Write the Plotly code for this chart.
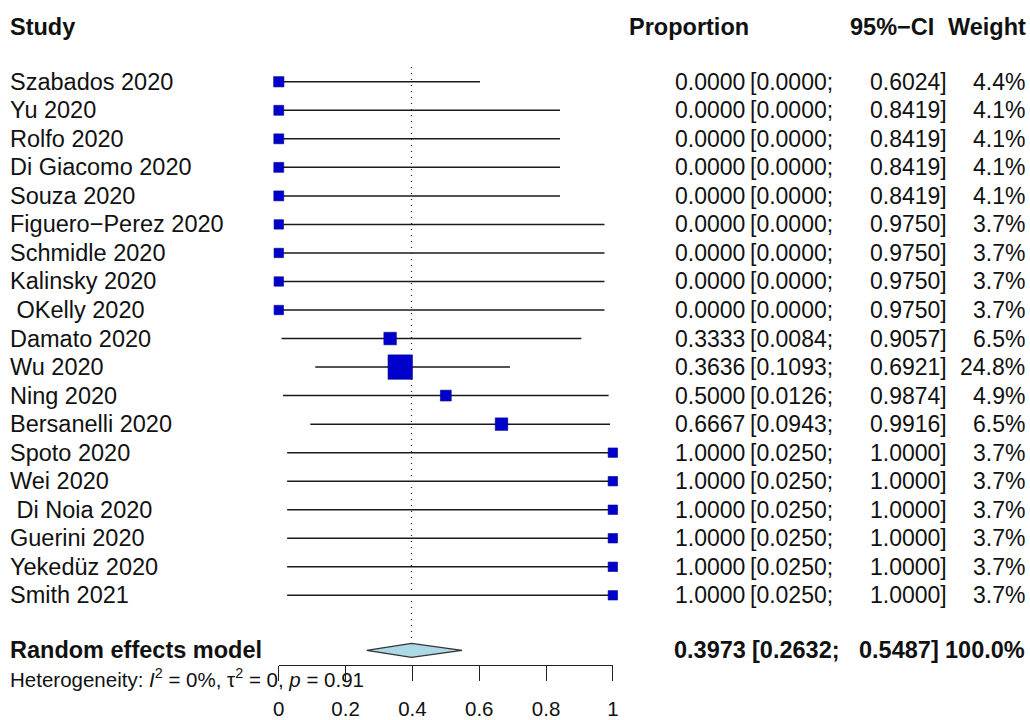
import plotly.graph_objects as go

studies = ["Szabados 2020", "Yu 2020", "Rolfo 2020", "Di Giacomo 2020", "Souza 2020",
           "Figuero\u2212Perez 2020", "Schmidle 2020", "Kalinsky 2020", "\u00a0OKelly 2020",
           "Damato 2020", "Wu 2020", "Ning 2020", "Bersanelli 2020", "Spoto 2020",
           "Wei 2020", "\u00a0Di Noia 2020", "Guerini 2020", "Yeked\u00fcz 2020", "Smith 2021"]
proportion = [0.0, 0.0, 0.0, 0.0, 0.0, 0.0, 0.0, 0.0, 0.0, 0.3333, 0.3636, 0.5, 0.6667,
              1.0, 1.0, 1.0, 1.0, 1.0, 1.0]
ci_lower = [0.0, 0.0, 0.0, 0.0, 0.0, 0.0, 0.0, 0.0, 0.0, 0.0084, 0.1093, 0.0126, 0.0943,
            0.025, 0.025, 0.025, 0.025, 0.025, 0.025]
ci_upper = [0.6024, 0.8419, 0.8419, 0.8419, 0.8419, 0.9750, 0.9750, 0.9750, 0.9750,
            0.9057, 0.6921, 0.9874, 0.9916, 1.0, 1.0, 1.0, 1.0, 1.0, 1.0]
weights = [4.4, 4.1, 4.1, 4.1, 4.1, 3.7, 3.7, 3.7, 3.7, 6.5, 24.8, 4.9, 6.5,
           3.7, 3.7, 3.7, 3.7, 3.7, 3.7]

re_est = 0.3973
re_lower = 0.2632
re_upper = 0.5487
re_weight = 100.0

tick_vals = [0, 0.2, 0.4, 0.6, 0.8, 1]
tick_text = ["0", "0.2", "0.4", "0.6", "0.8", "1"]

W, H = 1030, 720
FONT = "Liberation Sans, Arial, sans-serif"
LBL_FS = 23.5
NUM_FS = 23
BOLD_FS = 23.5

n = len(studies)
rows = list(range(n))
summary_row = 19.93
header_row = -1.92
het_row = 20.9
diamond_half = 0.245

fig = go.Figure()

# CI lines
for i in rows:
    fig.add_trace(go.Scatter(x=[ci_lower[i], ci_upper[i]], y=[i, i], mode="lines",
                             line=dict(color="#1a1a1a", width=1.5), hoverinfo="skip",
                             showlegend=False, cliponaxis=False))

# Reference dotted line at the pooled estimate
fig.add_trace(go.Scatter(x=[re_est, re_est], y=[-0.52, summary_row - diamond_half],
                         mode="lines", line=dict(color="#222222", width=1.2, dash="1px,5px"),
                         hoverinfo="skip", showlegend=False, cliponaxis=False))

# Squares
fig.add_trace(go.Scatter(x=proportion, y=rows, mode="markers",
                         marker=dict(symbol="square", color="#0000cd", opacity=1,
                                     size=[4.9 * w ** 0.5 for w in weights],
                                     line=dict(width=0.6, color="#00008b")),
                         hoverinfo="skip", showlegend=False, cliponaxis=False))

# Diamond
fig.add_trace(go.Scatter(x=[re_lower, re_est, re_upper, re_est, re_lower],
                         y=[summary_row, summary_row - diamond_half, summary_row,
                            summary_row + diamond_half, summary_row],
                         mode="lines", fill="toself", fillcolor="#add8e6",
                         line=dict(color="#333333", width=1.3),
                         hoverinfo="skip", showlegend=False, cliponaxis=False))

ann = []

def add_text(px, row, text, anchor, size, bold=False, shift=None):
    t = f"<b>{text}</b>" if bold else text
    if shift is None:
        shift = -8 if anchor == "left" else 8
    ann.append(dict(x=(px + shift) / W, xref="paper", y=row, yref="y", text=t,
                    showarrow=False, xanchor=anchor, yanchor="middle",
                    font=dict(family=FONT, size=size, color="#111111")))

# Headers
add_text(10, header_row, "Study", "left", BOLD_FS, True)
add_text(746, header_row, "Proportion", "right", BOLD_FS, True)
add_text(933, header_row, "95%\u2212CI", "right", BOLD_FS, True)
add_text(1026, header_row, "Weight", "right", BOLD_FS, True)

for i in rows:
    add_text(10, i, studies[i], "left", LBL_FS)
    add_text(742, i, f"{proportion[i]:.4f}", "right", NUM_FS)
    add_text(751, i, f"[{ci_lower[i]:.4f};", "left", NUM_FS, shift=0)
    add_text(946, i, f"{ci_upper[i]:.4f}]", "right", NUM_FS)
    add_text(1025, i, f"{weights[i]:.1f}%", "right", NUM_FS)

add_text(10, summary_row, "Random effects model", "left", BOLD_FS, True)
add_text(743, summary_row, f"{re_est:.4f}", "right", BOLD_FS, True)
add_text(753, summary_row, f"[{re_lower:.4f};", "left", BOLD_FS, True, shift=0)
add_text(938, summary_row, f"{re_upper:.4f}]", "right", BOLD_FS, True)
add_text(1025, summary_row, f"{re_weight:.1f}%", "right", BOLD_FS, True)

add_text(10, het_row,
         "Heterogeneity: <i>I</i><sup>2</sup> = 0%, \u03c4<sup>2</sup> = 0, <i>p</i> = 0.91",
         "left", 20.5)

y_top = -82 / 28.61
y_bot = (H - 82) / 28.61

fig.update_layout(
    width=W, height=H,
    margin=dict(l=0, r=0, t=0, b=0),
    paper_bgcolor="white", plot_bgcolor="white",
    annotations=ann,
    xaxis=dict(domain=[276 / W, 614 / W], range=[0, 1], anchor="free",
               position=1 - 667 / H, side="bottom",
               showline=True, linecolor="#222222", linewidth=1.3,
               ticks="outside", ticklen=15, tickwidth=1.3, tickcolor="#222222",
               tickvals=tick_vals, ticktext=tick_text,
               tickfont=dict(family=FONT, size=20.5, color="#111111"),
               ticklabelstandoff=10,
               showgrid=False, zeroline=False, fixedrange=True),
    yaxis=dict(domain=[0, 1], range=[y_bot, y_top], visible=False,
               showgrid=False, zeroline=False, fixedrange=True),
)

fig.write_html("out.html")
